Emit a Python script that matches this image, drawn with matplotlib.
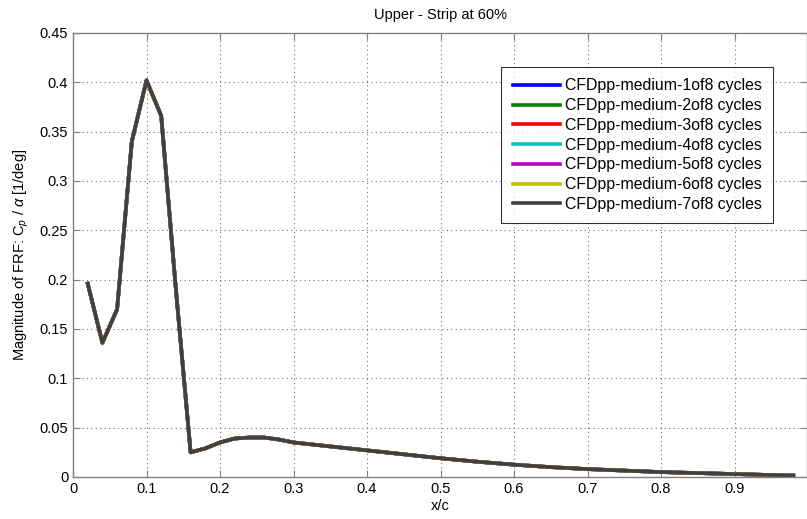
import matplotlib
matplotlib.use("Agg")
import matplotlib.pyplot as plt

plt.rcParams['font.family'] = ['Liberation Sans', 'DejaVu Sans']
plt.rcParams['mathtext.fontset'] = 'custom'
plt.rcParams['mathtext.rm'] = 'Liberation Sans'
plt.rcParams['mathtext.it'] = 'Liberation Sans:italic'

x_c = [0.02, 0.04, 0.06, 0.08, 0.10, 0.12, 0.14, 0.16, 0.18, 0.20, 0.22, 0.24,
       0.26, 0.28, 0.30, 0.35, 0.40, 0.45, 0.50, 0.55, 0.60, 0.65, 0.70, 0.75,
       0.80, 0.85, 0.90, 0.95, 0.98]
cp_mag = [0.196, 0.136, 0.170, 0.340, 0.402, 0.366, 0.190, 0.025, 0.029, 0.035,
          0.039, 0.040, 0.040, 0.038, 0.035, 0.031, 0.027, 0.023, 0.019, 0.0155,
          0.0125, 0.010, 0.008, 0.0065, 0.005, 0.004, 0.003, 0.002, 0.0015]

series_labels = ['CFDpp-medium-1of8 cycles', 'CFDpp-medium-2of8 cycles',
                 'CFDpp-medium-3of8 cycles', 'CFDpp-medium-4of8 cycles',
                 'CFDpp-medium-5of8 cycles', 'CFDpp-medium-6of8 cycles',
                 'CFDpp-medium-7of8 cycles']
series_colors = ['#0000ff', '#008000', '#ff0000', '#00bfbf', '#bf00bf', '#bfbf00', '#404040']

x_ticks = [0, 0.1, 0.2, 0.3, 0.4, 0.5, 0.6, 0.7, 0.8, 0.9]
y_ticks = [0, 0.05, 0.1, 0.15, 0.2, 0.25, 0.3, 0.35, 0.4, 0.45]

W, H = 807, 519
fig = plt.figure(figsize=(W / 100, H / 100), dpi=100)
ax = fig.add_axes([73 / W, 1 - 477 / H, (807 - 73) / W, (477 - 33) / H])

for lab, col in zip(series_labels, series_colors):
    ax.plot(x_c, cp_mag, color=col, lw=2.6, label=lab)

ax.set_xlim(0, 0.9986)
ax.set_ylim(0, 0.45)
ax.set_xticks(x_ticks)
ax.set_xticklabels(['0' if t == 0 else f'{t:g}' for t in x_ticks])
ax.set_yticks(y_ticks)
ax.set_yticklabels(['0' if t == 0 else f'{t:g}' for t in y_ticks])
ax.tick_params(direction='in', top=True, right=True, length=5, labelsize=10.5,
               colors='#808080', labelcolor='black')
ax.grid(True, linestyle=(0, (1, 3)), color='#707070', lw=0.8)
for s in ax.spines.values():
    s.set_color('#808080')
    s.set_linewidth(1.0)

ax.set_title('Upper - Strip at 60%', fontsize=10.5, pad=10)
ax.set_xlabel('x/c', fontsize=10.5, labelpad=2)
ax.set_ylabel('Magnitude of FRF: C$_p$ / $\\alpha$ [1/deg]', fontsize=10.5, labelpad=6)

leg = ax.legend(loc='upper right', bbox_to_anchor=(773 / W, 1 - 67 / H),
                bbox_transform=fig.transFigure, fontsize=11.4, frameon=True,
                fancybox=False, edgecolor='black', handlelength=3.0,
                labelspacing=0.3, borderpad=0.72, handletextpad=0.28, borderaxespad=0)
leg.get_frame().set_linewidth(0.8)

fig.savefig('out.png', dpi=100)
